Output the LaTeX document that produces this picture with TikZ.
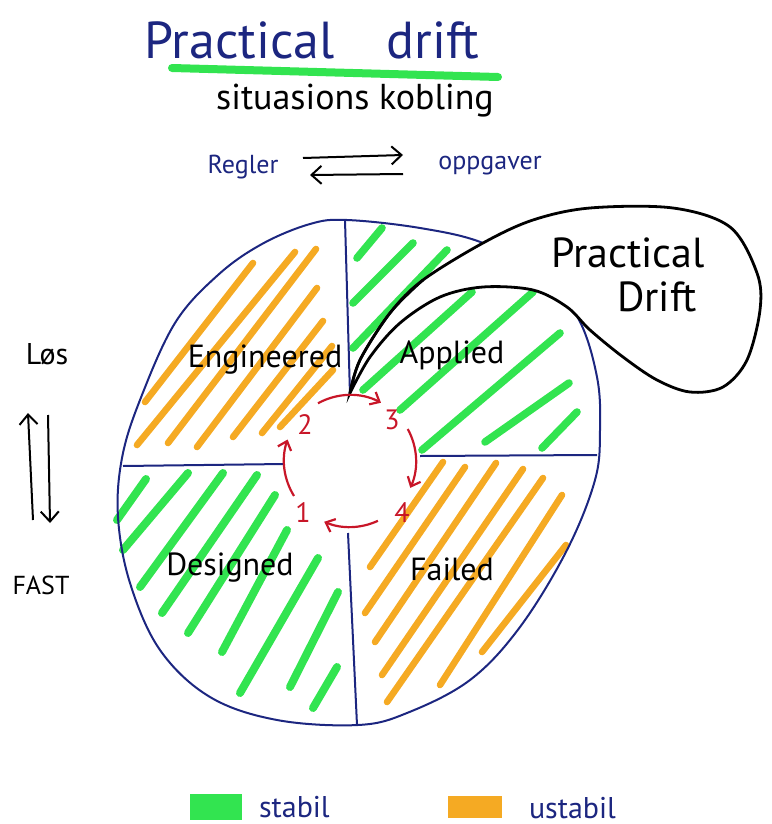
\documentclass[tikz,border=0pt]{standalone}
\usepackage{fontspec}
\setmainfont{PT Sans}
\usetikzlibrary{arrows.meta}
\definecolor{inkblue}{RGB}{28,38,128}
\definecolor{inkred}{RGB}{200,22,40}
\definecolor{markgreen}{RGB}{50,228,80}
\definecolor{markorange}{RGB}{245,170,35}
\tikzset{hatch/.style={line width=3.3pt,line cap=round}}
\tikzset{rim/.style={inkblue,line width=1pt}}
\tikzset{cyc/.style={inkred,line width=1.1pt,-{Straight Barb[length=4pt,width=7pt]}}}
\tikzset{barb/.style={line width=1pt,-{Straight Barb[length=5pt,width=9pt]}}}
\tikzset{fsize/.style={font=\fontsize{#1}{#1}\selectfont}}
\tikzset{quad/.style={fsize=16}}

\begin{document}
\begin{tikzpicture}[x=0.5pt,y=-0.5pt]
      \useasboundingbox (0,0) rectangle (771,824);
      \pgfmathsetmacro{\cx}{350}
      \pgfmathsetmacro{\cy}{461}
      \pgfmathsetmacro{\rr}{66}

      \foreach \ax/\ay/\bx/\by in {145/402/253/263, 137/445/295/252, 168/443/316/249, 197/447/317/288, 233/437/323/321, 262/433/332/346, 280/427/333/370,
                                   370/567/443/462, 365/613/465/467, 375/642/496/463, 382/675/523/469, 387/702/543/478, 440/685/562/495, 482/652/566/545}
        \draw[hatch,markorange] (\ax,\ay) -- (\bx,\by);
      \foreach \ax/\ay/\bx/\by in {357/258/382/228, 353/303/413/243, 353/348/447/250, 363/390/472/292, 400/410/533/292, 422/450/560/333, 485/442/569/383, 542/448/577/412}
        \draw[hatch,markgreen,line width=3.8pt] (\ax,\ay) -- (\bx,\by);
      \foreach \ax/\ay/\bx/\by in {117/520/146/479, 123/550/188/473, 140/587/223/473, 162/613/257/475, 188/633/275/495, 222/652/287/530, 240/693/318/558, 290/687/338/592, 313/708/337/667}
        \draw[hatch,markgreen,line width=4pt] (\ax,\ay) -- (\bx,\by);

      \draw[rim] plot[smooth cycle,tension=0.6] coordinates {(347,220) (420,228) (483,243) (540,275) (578,318) (597,377) (600,430) (595,480) (567,550) (520,627) (470,680) (407,713) (358,725) (277,720) (210,697) (160,650) (130,583) (118,517) (122,458) (140,400) (175,323) (218,275) (262,244) (310,224)};
      \draw[rim] (345,220) -- (350,395);
      \draw[rim] (123,466) -- (284,464);
      \draw[rim] (420,456) -- (597,455);
      \draw[rim] (348,533) -- (357,725);

      \draw[line width=1.4pt,fill=white] plot[smooth,tension=0.55] coordinates {(350,393) (360,360) (390,313) (423,280) (483,243) (533,220) (590,208) (673,208) (730,227) (757,273) (760,310) (747,360) (723,387) (690,392) (657,380) (623,357) (590,330) (567,307) (533,290) (483,287) (440,297) (400,323) (370,357) (350,393)} -- cycle;
      \draw[line width=1.3pt] plot[smooth,tension=0.55] coordinates {(350,393) (360,360) (390,313) (423,280)};

      \draw[cyc] (\cx,\cy) ++(-119:\rr) arc (-119:-62:\rr);
      \draw[cyc] (\cx,\cy) ++(-29:\rr) arc (-29:24:\rr);
      \draw[cyc] (\cx,\cy) ++(65:\rr) arc (65:113:\rr);
      \draw[cyc] (\cx,\cy) ++(148:\rr) arc (148:199:\rr);
      \node[inkred,fsize=14] at (305,425) (n2) {2};
      \node[inkred,fsize=14] at (392,420) (n3) {3};
      \node[inkred,fsize=14] at (402,513) (n4) {4};
      \node[inkred,fsize=14] at (303,513) (n1) {1};

      \node[quad] at (265,360) (eng) {Engineered};
      \node[quad] at (452,355) (app) {Applied};
      \node[quad] at (230,568) (des) {Designed};
      \node[quad] at (452,569) (fail) {Failed};
      \node[fsize=21] at (628,253) (pd1) {Practical};
      \node[fsize=21] at (657,297) (pd2) {Drift};

      \node[inkblue,fsize=26] at (312,40) (title) {Practical\quad drift};
      \draw[markgreen,line width=4pt,line cap=round] (172,68) -- (498,77);
      \node[fsize=18] at (355,101) (sub) {situasions kobling};
      \node[inkblue,fsize=13] at (243,167) (regler) {Regler};
      \node[inkblue,fsize=13] at (490,166) (oppg) {oppgaver};
      \coordinate (ra) at (303,158);
      \coordinate (rb) at (403,155);
      \coordinate (rc) at (403,174);
      \coordinate (rd) at (310,175);
      \draw[barb] (ra) -- (rb);
      \draw[barb] (rc) -- (rd);

      \node[fsize=15] at (47,354) (los) {Løs};
      \node[fsize=13] at (41,585) (fast) {FAST};
      \coordinate (la) at (33,520);
      \coordinate (lb) at (28,413);
      \coordinate (lc) at (48,415);
      \coordinate (ld) at (50,523);
      \draw[barb] (la) -- (lb);
      \draw[barb] (lc) -- (ld);

      \node[fill=markgreen,minimum width=26pt,minimum height=13pt,inner sep=0pt] at (216,807) (sbox) {};
      \node[inkblue,fsize=15,anchor=west] at (252,807) (stabil) {stabil};
      \node[fill=markorange,minimum width=27pt,minimum height=11pt,inner sep=0pt] at (475,807) (ubox) {};
      \node[inkblue,fsize=15,anchor=west] at (522,808) (ustabil) {ustabil};
    \end{tikzpicture}
\end{document}
